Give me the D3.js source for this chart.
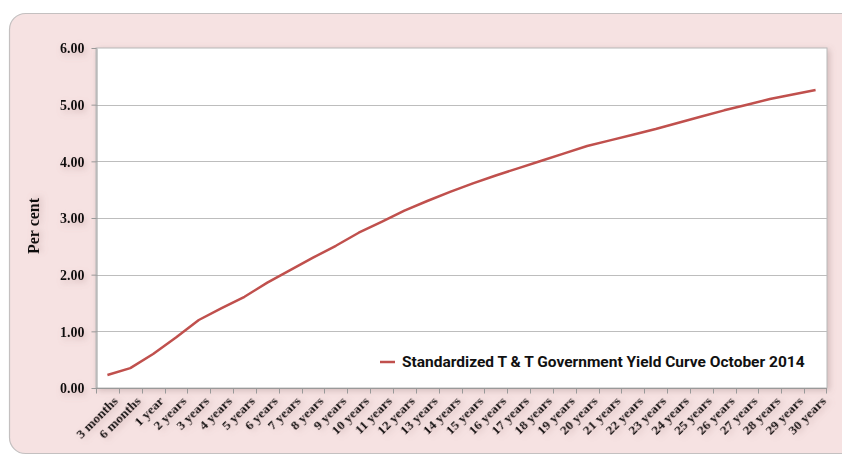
<!DOCTYPE html>
<html>
<head>
<meta charset="utf-8">
<script src="https://cdn.jsdelivr.net/npm/d3@7"></script>
<style>
  body { margin: 0; background: #fff; }
  svg { display: block; }
</style>
</head>
<body>
<svg id="chart" width="842" height="458"></svg>
<script>
var categories = ["3 months", "6 months", "1 year", "2 years", "3 years", "4 years", "5 years",
  "6 years", "7 years", "8 years", "9 years", "10 years", "11 years", "12 years", "13 years",
  "14 years", "15 years", "16 years", "17 years", "18 years", "19 years", "20 years",
  "21 years", "22 years", "23 years", "24 years", "25 years", "26 years", "27 years",
  "28 years", "29 years", "30 years"];
var yields = [0.23, 0.35, 0.60, 0.89, 1.20, 1.41, 1.61, 1.86, 2.08, 2.30, 2.51, 2.74, 2.93,
  3.13, 3.30, 3.46, 3.61, 3.75, 3.88, 4.01, 4.14, 4.27, 4.37, 4.47, 4.57, 4.68, 4.79,
  4.90, 5.00, 5.10, 5.18, 5.26];
var yTicks = [0, 1, 2, 3, 4, 5, 6];
var seriesName = "Standardized T & T Government Yield Curve October 2014";

var svg = d3.select("#chart");
var plotL = 96, plotT = 48, plotR = 827, plotB = 388;

var defs = svg.append("defs");
var sh = defs.append("filter").attr("id", "panelShadow")
  .attr("x", "-5%").attr("y", "-5%").attr("width", "110%").attr("height", "110%");
sh.append("feDropShadow").attr("dx", 2).attr("dy", 2).attr("stdDeviation", 3)
  .attr("flood-color", "#8a6a6a").attr("flood-opacity", 0.35);
var ts = defs.append("filter").attr("id", "textShadow")
  .attr("x", "-30%").attr("y", "-60%").attr("width", "160%").attr("height", "220%");
ts.append("feDropShadow").attr("dx", 2).attr("dy", 3).attr("stdDeviation", 3)
  .attr("flood-color", "#a07c7c").attr("flood-opacity", 0.4);

// outer panel
svg.append("rect")
  .attr("x", 9.5).attr("y", 13.5).attr("width", 850).attr("height", 440)
  .attr("rx", 16).attr("ry", 16)
  .attr("fill", "#f6e2e2").attr("stroke", "#c4c0c0").attr("stroke-width", 1.2);

var x = d3.scaleBand().domain(categories).range([plotL, plotR]);
var y = d3.scaleLinear().domain([0, 6]).range([plotB, plotT]);

// plot area
svg.append("rect")
  .attr("x", plotL).attr("y", plotT).attr("width", plotR - plotL).attr("height", plotB - plotT)
  .attr("fill", "#fff").attr("stroke", "#b8b8b8").attr("stroke-width", 1)
  .attr("filter", "url(#panelShadow)");

// gridlines
svg.append("g").selectAll("line").data(yTicks.slice(1, -1)).enter().append("line")
  .attr("x1", plotL).attr("x2", plotR)
  .attr("y1", d => Math.round(y(d)) + 0.5).attr("y2", d => Math.round(y(d)) + 0.5)
  .attr("stroke", "#bdbdbd").attr("stroke-width", 1);

// y axis
var yAxis = svg.append("g").attr("transform", "translate(" + (plotL + 0.5) + ",0)")
  .call(d3.axisLeft(y).tickValues(yTicks).tickFormat(d3.format(".2f")).tickSizeInner(5).tickSizeOuter(0));
yAxis.select(".domain").attr("stroke", "#999");
yAxis.selectAll(".tick line").attr("stroke", "#999");
yAxis.selectAll(".tick text")
  .attr("x", -12).attr("dy", "0.35em")
  .attr("font-family", "'Liberation Serif', 'DejaVu Serif', serif")
  .attr("font-weight", "bold").attr("font-size", 14).attr("fill", "#111")
  .attr("filter", "url(#textShadow)");

// x axis: ticks at category boundaries
var xAxis = svg.append("g").attr("transform", "translate(0," + (plotB + 0.5) + ")");
xAxis.append("line").attr("x1", plotL).attr("x2", plotR).attr("stroke", "#999");
xAxis.selectAll("line.tk").data(categories).enter().append("line").attr("class", "tk")
  .attr("x1", d => Math.round(x(d)) + 0.5).attr("x2", d => Math.round(x(d)) + 0.5)
  .attr("y1", 0).attr("y2", 5).attr("stroke", "#999");
xAxis.append("line").attr("x1", plotR - 0.5).attr("x2", plotR - 0.5).attr("y1", 0).attr("y2", 5).attr("stroke", "#999");
xAxis.selectAll("text").data(categories).enter().append("text")
  .attr("transform", d => "translate(" + (x(d) + x.bandwidth() / 2 + 5) + ",7) rotate(-45)")
  .attr("text-anchor", "end").attr("dy", "0.7em")
  .attr("font-family", "'Liberation Serif', 'DejaVu Serif', serif")
  .attr("font-weight", "bold").attr("font-size", 13.5).attr("fill", "#111")
  .attr("filter", "url(#textShadow)")
  .text(d => d);

// axis title
svg.append("text")
  .attr("transform", "translate(39,226) rotate(-90)")
  .attr("text-anchor", "middle")
  .attr("font-family", "'Liberation Serif', 'DejaVu Serif', serif")
  .attr("font-weight", "bold").attr("font-size", 16).attr("fill", "#111")
  .attr("filter", "url(#textShadow)")
  .text("Per cent");

// series line
var line = d3.line().x((d, i) => x(categories[i]) + x.bandwidth() / 2).y(d => y(d));
svg.append("path").datum(yields)
  .attr("d", line).attr("fill", "none")
  .attr("stroke", "#c0504d").attr("stroke-width", 2.5).attr("stroke-linejoin", "round");

// legend
var lg = svg.append("g").attr("transform", "translate(380,362)");
lg.append("line").attr("x1", 0).attr("x2", 15).attr("stroke", "#c0504d").attr("stroke-width", 2.5);
lg.append("text").attr("x", 22).attr("dy", "0.35em")
  .attr("font-family", "Roboto, 'Liberation Sans', sans-serif")
  .attr("font-weight", "bold").attr("font-size", 15.5).attr("fill", "#111")
  .text(seriesName);
</script>
</body>
</html>
